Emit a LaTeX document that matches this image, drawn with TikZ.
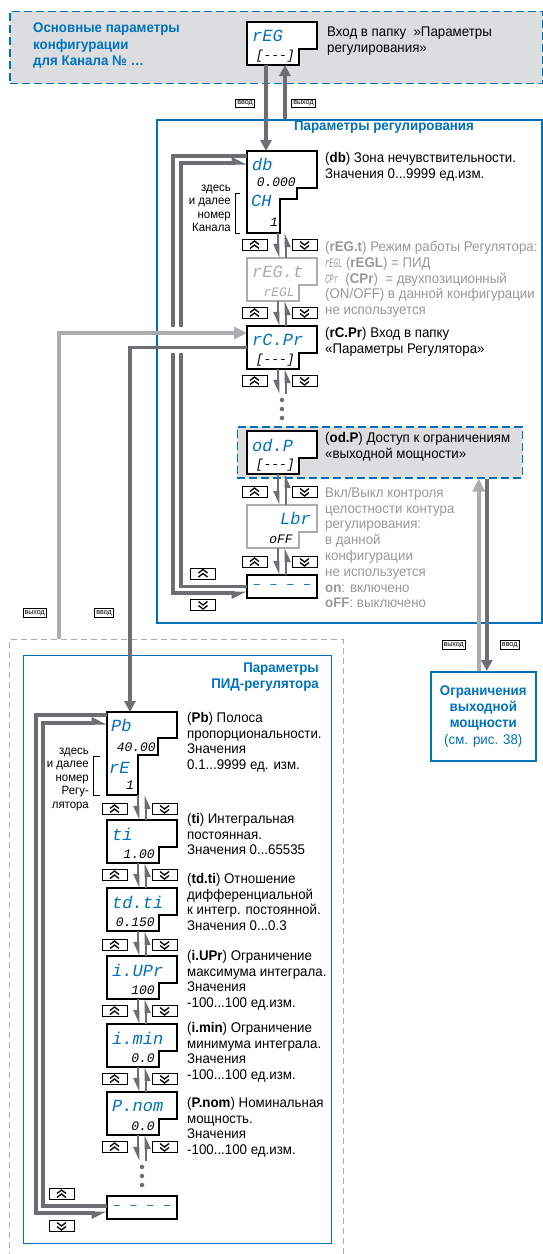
\documentclass[tikz,border=0pt]{standalone}
\usepackage{fontspec}
\setmainfont[FakeStretch=0.95]{Liberation Sans}
\newfontfamily\segfont{Liberation Mono}
\newfontfamily\segnarrow[FakeStretch=0.55]{Liberation Mono}
\usepackage{tikz}
\usetikzlibrary{positioning,arrows.meta}
\definecolor{panelblue}{RGB}{0,114,188}
\definecolor{darkline}{RGB}{109,110,113}
\definecolor{lightline}{RGB}{170,172,175}
\definecolor{shadebg}{RGB}{220,221,223}
\definecolor{mutedtext}{RGB}{150,152,155}
\newcommand{\seg}[1]{{\fontsize{13}{13}\segnarrow\itshape #1}}

\tikzset{
  dispframe/.style={rectangle, minimum width=70pt, minimum height=43pt, anchor=north west, inner sep=0pt, outer sep=0pt},
  displine/.style={draw=black, line width=1.1pt, fill=white},
  segtop/.style={font=\fontsize{17}{17}\segfont\itshape, text=panelblue, anchor=west},
  segbot/.style={font=\fontsize{13}{13}\segfont\itshape, text=black, anchor=east},
  keybox/.style={draw, line width=0.9pt, minimum width=25pt, minimum height=11pt, inner sep=0pt},
  keyup/.style={keybox, path picture={\draw[line width=1.3pt, shift={(path picture bounding box.center)}] (-4.5pt,0.5pt) -- (0pt,4pt) -- (4.5pt,0.5pt) (-4.5pt,-3.5pt) -- (0pt,0pt) -- (4.5pt,-3.5pt);}},
  keydown/.style={keybox, path picture={\draw[line width=1.3pt, shift={(path picture bounding box.center)}] (-4.5pt,-0.5pt) -- (0pt,-4pt) -- (4.5pt,-0.5pt) (-4.5pt,3.5pt) -- (0pt,0pt) -- (4.5pt,3.5pt);}},
  harpleft/.style={-{Triangle[harpoon,length=12pt,width=11pt]}},
  harpright/.style={-{Triangle[harpoon,swap,length=12pt,width=11pt]}},
  stepline/.style={draw=darkline, line width=2.6pt, -{Triangle[harpoon,swap,length=11pt,width=9pt]}},
  loopline/.style={draw=darkline, line width=3.4pt},
  mainline/.style={draw=darkline, line width=3.6pt, -{Triangle[length=11pt,width=11pt]}},
  exitline/.style={draw=lightline, line width=3.6pt, -{Triangle[length=13pt,width=12pt]}},
  tagbox/.style={draw, line width=0.8pt, font=\fontsize{7.5}{7.5}\selectfont, inner sep=1.6pt},
  desc/.style={anchor=north west, align=left},
  mutedesc/.style={desc, text=mutedtext},
  notetext/.style={anchor=north east, align=right, font=\fontsize{12}{13.5}\selectfont},
  panelframe/.style={draw=panelblue, line width=1.6pt, anchor=north west},
  shadezone/.style={draw=panelblue, fill=shadebg, line width=1.6pt, dash pattern=on 8pt off 4pt, anchor=north west},
  paneltitle/.style={font=\fontsize{14}{15.5}\selectfont\bfseries, text=panelblue},
  dotmark/.style={circle, fill=darkline, minimum size=4.5pt},
}

% two-row display: name, top left corner, upper text, lower text
\newcommand{\segtwo}[4]{%
  \node[dispframe] (#1) at (#2) {};
  \draw[displine] (#1.north west) -- (#1.north east) -- ++(0pt,-27pt) -- ++(-18pt,0pt) |- (#1.south west) -- cycle;
  \node[segtop] (#1-hi) at ([xshift=5pt,yshift=-14pt]#1.north west) {#3};
  \node[segbot] (#1-lo) at ([xshift=-22pt,yshift=-34pt]#1.north east) {#4};
}
% up/down pair between two displays
\newcommand{\keypair}[4][12pt]{%
  \draw[stepline] ([xshift=31pt]#3.south west) -- ([xshift=31pt]#4.north west);
  \draw[stepline] ([xshift=39pt]#4.north west) -- ([xshift=39pt]#3.south west);
  \node[keyup] (#2-up) at ([xshift=7.5pt,yshift=-#1]#3.south west) {};
  \node[keydown] (#2-dn) at ([xshift=57.5pt,yshift=-#1]#3.south west) {};
}

\begin{document}
\begin{tikzpicture}[x=1pt, y=-1pt, every node/.style={font=\fontsize{14}{15.8}\selectfont, inner sep=0pt}]
\useasboundingbox (0,0) rectangle (543,1254);
\clip (0,0) rectangle (543,1254);

% frames
\node[shadezone, minimum width=533pt, minimum height=72pt] (basebox) at (9,10.5) {};
\node[panelframe, minimum width=385pt, minimum height=503pt] (regpanel) at (156,119) {};
\node[draw=lightline, line width=1pt, dash pattern=on 6pt off 4pt, minimum width=334pt, minimum height=640pt, anchor=north west] (pidouter) at (8.5,639) {};
\node[panelframe, minimum width=308pt, minimum height=588pt] (pidpanel) at (22.5,654.5) {};
\node[shadezone, minimum width=285pt, minimum height=51pt] (odpzone) at (236.5,426) {};
\node[panelframe, minimum width=105pt, minimum height=89pt, align=center, text=panelblue, font=\fontsize{14}{16.3}\selectfont] (limits) at (430,671) {\textbf{Ограничения}\\\textbf{выходной}\\\textbf{мощности}\\(см. рис. 38)};

\node[paneltitle, anchor=north west, align=left, font=\fontsize{14}{16.5}\selectfont\bfseries] (basetitle) at (33,23) {Основные параметры\\конфигурации\\для Канала № …};
\node[paneltitle] (regtitle) at (384,127) {Параметры регулирования};
\node[paneltitle, anchor=north east, align=right] (pidtitle) at (319,663) {Параметры\\ПИД-регулятора};

% displays of the regulation folder
\segtwo{rEG}{247,22}{rEG}{[---]}
\node[dispframe, minimum height=82pt] (db) at (247,151) {};
\draw[displine] (db.north west) -- (db.north east) -- ++(0pt,-37pt) -- ++(-20pt,0pt) -- ++(0pt,-11pt) -- ++(-17pt,0pt) |- (db.south west) -- cycle;
\node[segtop] (db-hi) at (252,164) {db};
\node[segbot] (db-val) at (296,182) {0.000};
\node[segtop] (db-ch) at (251,201) {CH};
\node[segbot] (db-no) at (278,222) {1};
\begin{scope}[displine/.append style={draw=lightline}, segtop/.append style={text=lightline}, segbot/.append style={text=lightline}]
\segtwo{regt}{247,258}{rEG.t}{rEGL}
\end{scope}
\segtwo{rcpr}{247,326}{rC.Pr}{[---]}
\node[dispframe, minimum height=0pt] (rcdots) at (247,394) {};
\segtwo{odp}{247,431}{od.P}{[---]}
\node[dispframe] (lbr) at (247,505) {};
\draw[displine, draw=lightline] (lbr.north west) -- (lbr.north east) -- ++(0pt,-27pt) -- ++(-18pt,0pt) |- (lbr.south west) -- cycle;
\node[segtop, anchor=east] (lbr-hi) at ([xshift=-6pt,yshift=-13pt]lbr.north east) {Lbr};
\node[segbot] (lbr-lo) at ([xshift=-24pt,yshift=-34pt]lbr.north east) {oFF};
\node[dispframe, minimum height=23pt, draw, line width=1.1pt] (endreg) at (247,575) {};
\node[segtop, anchor=center, font=\fontsize{14}{14}\segfont] (endreg-dash) at (endreg.center) {– – – –};

% displays of the PID folder
\node[dispframe, minimum height=83pt] (pb) at (107,712) {};
\draw[displine] (pb.north west) -- (pb.north east) -- ++(0pt,-26pt) -- ++(-19pt,0pt) -- ++(0pt,-17pt) -- ++(-20pt,0pt) |- (pb.south west) -- cycle;
\node[segtop] (pb-hi) at (111,725) {Pb};
\node[segbot] (pb-val) at (156,747) {40.00};
\node[segtop] (pb-re) at (109,767.5) {rE};
\node[segbot] (pb-no) at (134,785) {1};
\segtwo{ti}{107,820}{ti}{1.00}
\segtwo{tdti}{107,888}{td.ti}{0.150}
\segtwo{iupr}{107,956}{i.UPr}{100}
\segtwo{imin}{107,1024}{i.min}{0.0}
\segtwo{pnom}{107,1092}{P.nom}{0.0}
\node[dispframe, minimum height=0pt] (pndots) at (107,1161) {};
\node[dispframe, minimum height=23pt, draw, line width=1.1pt] (endpid) at (107,1196) {};
\node[segtop, anchor=center, font=\fontsize{14}{14}\segfont] (endpid-dash) at (endpid.center) {– – – –};

\foreach \k/\dy in {1/6,2/15,3/24} {
  \node[dotmark] (rcdot\k) at ([xshift=35pt,yshift=-\dy pt]rcdots.north west) {};
  \node[dotmark] (pndot\k) at ([xshift=35pt,yshift=-\dy pt]pndots.north west) {};
}

% descriptions
\node[desc] (rEG-txt) at (327,27) {Вход в папку \ »Параметры\\регулирования»};
\node[desc] (db-txt) at (325,152) {(\textbf{db}) Зона нечувствительности.\\Значения 0...9999 ед.изм.};
\node[mutedesc] (regt-txt) at (325,241) {(\textbf{rEG.t}) Режим работы Регулятора:\\\seg{rEGL} (\textbf{rEGL}) = ПИД\\\seg{CPr}\ \ (\textbf{CPr})\ \ = двухпозиционный\\(ON/OFF) в данной конфигурации\\не используется};
\node[desc] (rcpr-txt) at (325,327) {(\textbf{rC.Pr}) Вход в папку\\«Параметры Регулятора»};
\node[desc] (odp-txt) at (325,432) {(\textbf{od.P}) Доступ к ограничениям\\«выходной мощности»};
\node[mutedesc] (lbr-txt) at (325,487) {Вкл/Выкл контроля\\целостности контура\\регулирования:\\в данной\\конфигурации\\не используется\\\textbf{on}: включено\\\textbf{oFF}: выключено};
\node[notetext] (db-note) at (231,184.5) {здесь\\и далее\\номер\\Канала};
\draw[line width=0.8pt] (240,193) -- (235,193) -- (235,233) -- (240,233);

\node[desc] (pb-txt) at (187,712) {(\textbf{Pb}) Полоса\\пропорциональности.\\Значения\\0.1...9999 ед. изм.};
\node[desc] (ti-txt) at (187,813) {(\textbf{ti}) Интегральная\\постоянная.\\Значения 0...65535};
\node[desc] (tdti-txt) at (187,873) {(\textbf{td.ti}) Отношение\\дифференциальной\\к интегр. постоянной.\\Значения 0...0.3};
\node[desc] (iupr-txt) at (187,950) {(\textbf{i.UPr}) Ограничение\\максимума интеграла.\\Значения\\-100...100 ед.изм.};
\node[desc] (imin-txt) at (187,1022) {(\textbf{i.min}) Ограничение\\минимума интеграла.\\Значения\\-100...100 ед.изм.};
\node[desc] (pnom-txt) at (187,1097) {(\textbf{P.nom}) Номинальная\\мощность.\\Значения\\-100...100 ед.изм.};
\node[notetext] (pb-note) at (89,747.5) {здесь\\и далее\\номер\\Регу-\\лятора};
\draw[line width=0.8pt] (100,756) -- (93,756) -- (93,795) -- (100,795);

% wrap-around loops
\draw[loopline, harpright] ([yshift=36pt]db.west) -- ++(-74pt,0pt) |- ([yshift=-6.5pt]endreg.west);
\draw[loopline, harpleft] (endreg.west) -- ++(-66pt,0pt) |- ([yshift=29pt]db.west);
\draw[loopline, harpright] ([yshift=38.5pt]pb.west) -- ++(-71pt,0pt) |- ([yshift=-5.5pt]endpid.west);
\draw[loopline, harpleft] ([yshift=1.5pt]endpid.west) -- ++(-64pt,0pt) |- ([yshift=30.5pt]pb.west);
\fill[white] (166,327) rectangle (189,353);

% folder entries and exits
\draw[mainline] ([xshift=19pt]rEG.south west) -- ([xshift=19pt]rEG.south west |- db.north);
\draw[mainline] ([xshift=38pt]rEG.south west |- regpanel.north) -- ([xshift=38pt]rEG.south west);
\draw[mainline] (rcpr.west) -| ([xshift=23pt]pb.north west);
\draw[exitline] ([xshift=50.5pt]pidouter.north west) |- ([yshift=14.5pt]rcpr.west);
\draw[exitline] ([xshift=-4.5pt]limits.north) -- ([xshift=-4.5pt]limits.north |- odpzone.south);
\draw[mainline] ([xshift=3.5pt]limits.north |- odpzone.south) -- ([xshift=3.5pt]limits.north);

% keys
\keypair{k1}{db}{regt}
\keypair{k2}{regt}{rcpr}
\keypair{k3}{rcpr}{rcdots}
\keypair[18pt]{k4}{odp}{lbr}
\keypair[14pt]{k5}{lbr}{endreg}
\keypair[14pt]{k6}{pb}{ti}
\keypair{k7}{ti}{tdti}
\keypair[14pt]{k8}{tdti}{iupr}
\keypair{k9}{iupr}{imin}
\keypair{k10}{imin}{pnom}
\keypair{k11}{pnom}{pndots}
\node[keyup] (regwrap-up) at (203,573.5) {};
\node[keydown] (regwrap-dn) at (203,605) {};
\node[keyup] (pidwrap-up) at (61.5,1194) {};
\node[keydown] (pidwrap-dn) at (61.5,1226) {};

% tags
\node[tagbox] (tag-in1) at (245,103.5) {ввод};
\node[tagbox] (tag-out1) at (303.5,103.5) {выход};
\node[tagbox] (tag-out2) at (34.7,613) {выход};
\node[tagbox] (tag-in2) at (104,613) {ввод};
\node[tagbox] (tag-out3) at (453.7,645) {выход};
\node[tagbox] (tag-in3) at (509.7,645) {ввод};
\end{tikzpicture}
\end{document}
